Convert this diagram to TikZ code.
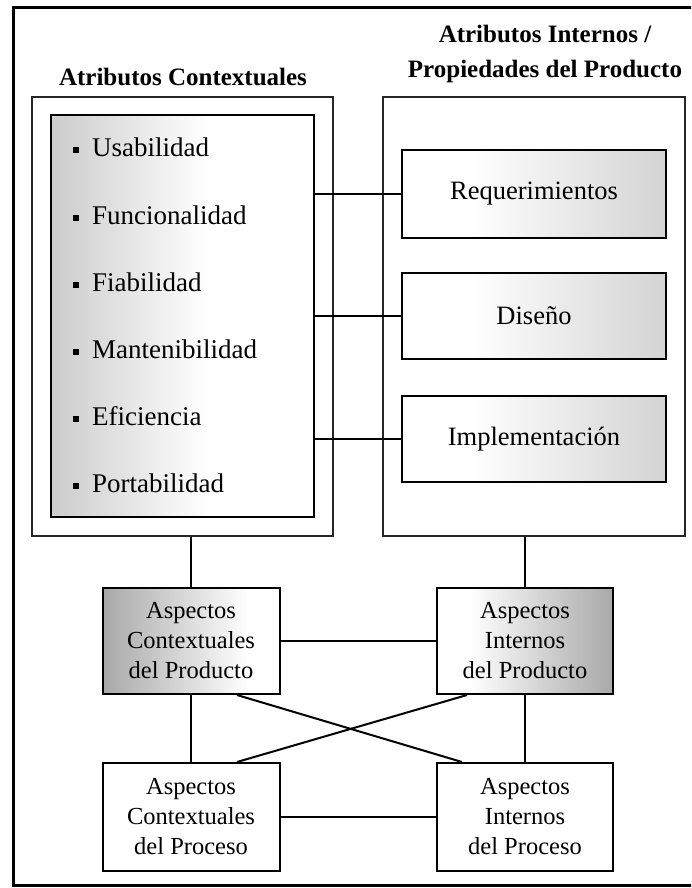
\documentclass[tikz,border=0pt]{standalone}
\usepackage{fontspec}
\setmainfont{Liberation Serif}
\pgfdeclarehorizontalshading{lgray}{100bp}{color(0bp)=(black!20); color(25bp)=(black!20); color(55bp)=(white); color(75bp)=(white); color(100bp)=(white)}
\pgfdeclarehorizontalshading{rgray}{100bp}{color(0bp)=(white); color(25bp)=(white); color(38bp)=(white); color(75bp)=(black!17); color(100bp)=(black!17)}
\pgfdeclarehorizontalshading{ldark}{100bp}{color(0bp)=(black!34); color(25bp)=(black!34); color(66bp)=(white); color(75bp)=(white); color(100bp)=(white)}
\pgfdeclarehorizontalshading{rdark}{100bp}{color(0bp)=(white); color(25bp)=(white); color(34bp)=(white); color(75bp)=(black!34); color(100bp)=(black!34)}
\begin{document}
\begin{tikzpicture}[x=1pt,y=-1pt,
  box/.style={draw=black, line width=2pt, rectangle, inner sep=0pt, align=center},
  outerbox/.style={draw=black!85, line width=1.6pt, rectangle, inner sep=0pt},
  conn/.style={draw=black, line width=2pt},
  bigtext/.style={font=\fontsize{26.5}{30}\selectfont},
  smalltext/.style={font=\fontsize{24.5}{30}\selectfont},
  titletext/.style={font=\fontsize{25}{35}\selectfont\bfseries, align=center, inner sep=0pt},
  item/.style={anchor=base west, inner sep=0pt, font=\fontsize{27}{30}\selectfont},
  grayleft/.style={shading=lgray},
  grayright/.style={shading=rgray},
  darkleft/.style={shading=ldark},
  darkright/.style={shading=rdark}
]
\useasboundingbox (0,0) rectangle (691,888);
\fill[white] (0,0) rectangle (691,888);
\begin{scope}
\clip (0,0) rectangle (691,888);
\draw[line width=3pt] (700,7.5) -- (13.5,7.5) -- (13.5,885.5) -- (700,885.5);
\end{scope}

% titles
\node[titletext] (t1) at (183,77) {Atributos Contextuales};
\node[titletext] (t2) at (545,54) {Atributos Internos /\\Propiedades del Producto};

% outer boxes
\node[outerbox, minimum width=301pt, minimum height=439pt] (lo) at (182.5,316.5) {};
\node[outerbox, minimum width=302pt, minimum height=439pt] (ro) at (534,316.5) {};

% inner gray list box
\node[box, grayleft, minimum width=263pt, minimum height=402pt] (li) at (182.5,316) {};

\newcommand{\sqbullet}{\raisebox{3.5pt}{\rule{6pt}{6pt}}\hspace{13pt}}
\node[item] (i1) at (73,157) {\sqbullet Usabilidad};
\node[item] (i2) at (73,224) {\sqbullet Funcionalidad};
\node[item] (i3) at (73,291) {\sqbullet Fiabilidad};
\node[item] (i4) at (73,358) {\sqbullet Mantenibilidad};
\node[item] (i5) at (73,425) {\sqbullet Eficiencia};
\node[item] (i6) at (73,492) {\sqbullet Portabilidad};

% right boxes
\node[box, grayright, bigtext, minimum width=264pt, minimum height=88pt] (req) at (534,194) {Requerimientos};
\node[box, grayright, bigtext, minimum width=264pt, minimum height=86pt] (dis) at (534,316) {Diseño};
\node[box, grayright, bigtext, minimum width=264pt, minimum height=86pt] (imp) at (534,439) {Implementación};

\draw[conn] (req.west) -- (req.west -| li.east);
\draw[conn] (dis.west) -- (dis.west -| li.east);
\draw[conn] (imp.west) -- (imp.west -| li.east);

% aspect boxes
\node[box, darkleft, smalltext, minimum width=177pt, minimum height=106pt] (cp) at (191,641) {Aspectos\\Contextuales\\del Producto};
\node[box, darkright, smalltext, minimum width=176pt, minimum height=106pt] (ip) at (525,641) {Aspectos\\Internos\\del Producto};
\node[box, fill=white, smalltext, minimum width=177pt, minimum height=108pt] (cq) at (191,817) {Aspectos\\Contextuales\\del Proceso};
\node[box, fill=white, smalltext, minimum width=176pt, minimum height=108pt] (iq) at (525,817) {Aspectos\\Internos\\del Proceso};

% connectors
\draw[conn] (cp.north) -- (cp.north |- lo.south);
\draw[conn] (ip.north) -- (ip.north |- ro.south);
\draw[conn] (cp.east) -- (ip.west);
\draw[conn] (cq.east) -- (iq.west);
\draw[conn] (cp.south) -- (cq.north);
\draw[conn] (ip.south) -- (iq.north);
\draw[conn] ([xshift=46pt]cp.south) -- ([xshift=-63pt]iq.north);
\draw[conn] ([xshift=-58pt]ip.south) -- ([xshift=46pt]cq.north);
\end{tikzpicture}
\end{document}
